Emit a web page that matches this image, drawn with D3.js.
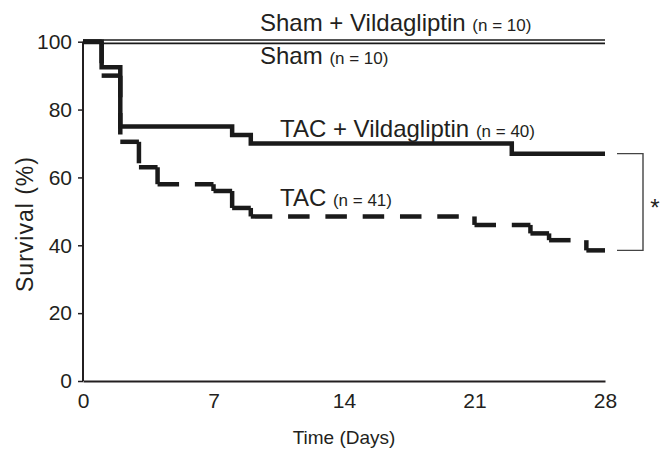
<!DOCTYPE html>
<html>
<head>
    <meta charset="utf-8">
    <title>Survival after TAC</title>
    <script src="https://d3js.org/d3.v7.min.js"></script>
    <style>
        body { margin: 0; background: #fff; }
        text { font-family: "Liberation Sans", Arial, sans-serif; fill: #231f20; }
    </style>
</head>
<body>
    <script type="text/javascript">
    // values
    const xTicks = [0, 7, 14, 21, 28];
    const yTicks = [0, 20, 40, 60, 80, 100];

    const shamDays = [0, 28];
    const shamSurv = [100, 100];
    const shamVildaSurv = [100, 100];

    const vildaDays = [0, 1, 2, 8, 9, 23, 28];
    const vildaSurv = [100, 92.5, 75, 72.5, 70, 67, 67];

    const tacDays = [0, 1, 2, 3, 4, 7, 8, 9, 21, 24, 25, 27, 28];
    const tacSurv = [100, 90, 70.5, 63, 58, 56, 51, 48.5, 46, 43.5, 41.5, 38.5, 38.5];

    const width = 660, height = 450;

    const svg = d3.select("body").append("svg")
        .attr("width", width)
        .attr("height", height);

    const x = d3.scaleLinear().domain([0, 28]).range([83, 605]);
    const y = d3.scaleLinear().domain([0, 100]).range([381, 41.7]);

    const zip = (ds, vs) => ds.map((d, i) => ({d: d, v: vs[i]}));

    const line = d3.line().x(p => x(p.d)).y(p => y(p.v));
    const step = d3.line()
        .x(p => x(p.d))
        .y(p => y(p.v))
        .curve(d3.curveStepAfter);

    // axes
    const gy = svg.append("g")
        .attr("transform", `translate(${x(0)},0)`)
        .call(d3.axisLeft(y).tickValues(yTicks).tickSize(5).tickPadding(6));
    gy.select(".domain").attr("stroke", "#231f20").attr("stroke-width", 2)
        .attr("d", `M0,${y(0)}V${y(100)}`);
    gy.selectAll(".tick line").attr("stroke", "#231f20").attr("stroke-width", 1.5);
    gy.selectAll(".tick text").style("font-size", "21px").attr("fill", "#231f20");

    const gx = svg.append("g")
        .attr("transform", `translate(0,${y(0)})`)
        .call(d3.axisBottom(x).tickValues(xTicks).tickSize(0).tickPadding(12));
    gx.select(".domain").attr("stroke", "#231f20").attr("stroke-width", 2);
    gx.selectAll(".tick text").style("font-size", "21px").attr("fill", "#231f20");

    svg.append("text")
        .attr("transform", `translate(33,224) rotate(-90)`)
        .attr("text-anchor", "middle")
        .style("font-size", "23px")
        .style("letter-spacing", "1px")
        .text("Survival (%)");

    svg.append("text")
        .attr("x", (x(0) + x(28)) / 2)
        .attr("y", 444)
        .attr("text-anchor", "middle")
        .style("font-size", "19px")
        .text("Time (Days)");

    // sham groups: two thin lines at 100 %
    svg.append("path")
        .attr("d", step(zip(shamDays, shamVildaSurv)))
        .attr("transform", "translate(0,-1.7)")
        .attr("fill", "none").attr("stroke", "#1a1a1a").attr("stroke-width", 1.7);
    svg.append("path")
        .attr("d", step(zip(shamDays, shamSurv)))
        .attr("transform", "translate(0,1.7)")
        .attr("fill", "none").attr("stroke", "#1a1a1a").attr("stroke-width", 1.7);

    // TAC + vildagliptin (solid)
    svg.append("path")
        .attr("d", step(zip(vildaDays, vildaSurv)))
        .attr("fill", "none").attr("stroke", "#1a1a1a").attr("stroke-width", 4.5);

    // TAC (dashed) - dash pattern restarts on every segment of the step
    const tacSegs = [];
    for (let i = 0; i < tacDays.length - 1; i++) {
        tacSegs.push([{d: tacDays[i], v: tacSurv[i]}, {d: tacDays[i + 1], v: tacSurv[i]}]);
        if (tacSurv[i + 1] !== tacSurv[i])
            tacSegs.push([{d: tacDays[i + 1], v: tacSurv[i]}, {d: tacDays[i + 1], v: tacSurv[i + 1]}]);
    }
    svg.append("g")
        .attr("fill", "none").attr("stroke", "#1a1a1a").attr("stroke-width", 4.5)
        .attr("stroke-dasharray", "21.5,15.8")
        .selectAll("path")
        .data(tacSegs)
        .join("path")
        .attr("d", line);

    // group labels
    function label(tx, ty, name, n) {
        const t = svg.append("text").attr("x", tx).attr("y", ty).style("font-size", "24px");
        t.append("tspan").text(name + " ");
        t.append("tspan").style("font-size", "17px").text(`(n = ${n})`);
    }
    label(260, 30.5, "Sham + Vildagliptin", 10);
    label(260, 63.5, "Sham", 10);
    label(280, 137, "TAC + Vildagliptin", 40);
    label(280, 206, "TAC", 41);

    // significance bracket between end points
    const yA = y(vildaSurv[vildaSurv.length - 1]);
    const yB = y(tacSurv[tacSurv.length - 1]);
    const bx = x(28);
    svg.append("path")
        .attr("d", `M${bx + 12},${yA}H${bx + 38}V${yB}H${bx + 12}`)
        .attr("fill", "none").attr("stroke", "#444").attr("stroke-width", 1.4);
    svg.append("text")
        .attr("x", bx + 50).attr("y", (yA + yB) / 2 + 14)
        .attr("text-anchor", "middle")
        .style("font-size", "24px")
        .text("*");
    </script>
</body>
</html>
